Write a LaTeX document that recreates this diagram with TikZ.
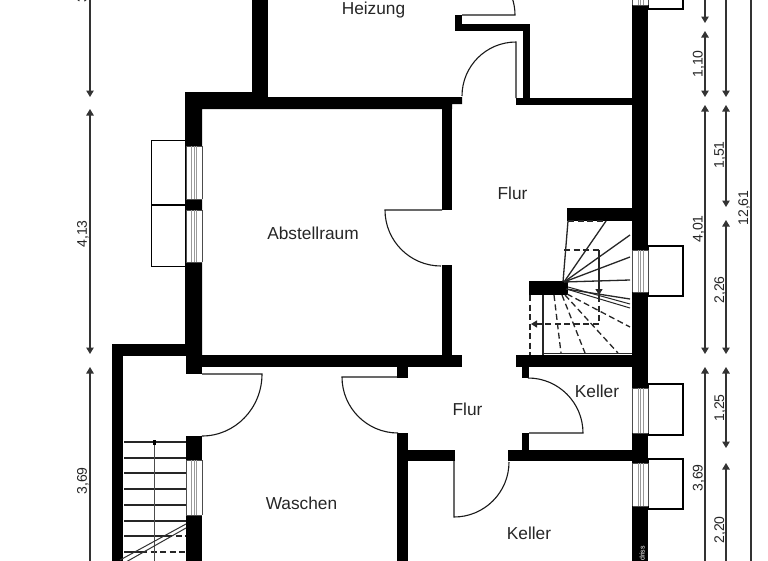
\documentclass[tikz,border=0pt]{standalone}
\usepackage{fontspec}
\setmainfont{Liberation Sans}
\usetikzlibrary{arrows.meta}
\tikzset{
  wall/.style={fill=black,draw=none},
  winbox/.style={draw=black,line width=1.7pt,fill=white},
  doorline/.style={draw=black!90,line width=1.1pt},
  tread/.style={draw=black!85,line width=1.3pt},
  treaddash/.style={draw=black!85,line width=1.3pt,dash pattern=on 6pt off 3.5pt},
  dimline/.style={draw=black!80,line width=1.1pt,{Triangle[length=6.5pt,width=7.5pt]}-{Triangle[length=6.5pt,width=7.5pt]}},
  dimtext/.style={font=\fontsize{14}{16}\selectfont,rotate=90,text=black!85,inner sep=0pt},
  roomtext/.style={font=\fontsize{17.3}{19}\selectfont,text=black!85,inner sep=0pt},
}
\newcommand{\winv}[4]{% x0 x1 y0 y1 vertical window in wall
  \fill[white] (#1,#3) rectangle (#2,#4);
  \draw[black!70,line width=0.9pt] (#1,#3) -- (#1,#4) (#2,#3) -- (#2,#4);
  \draw[black!70,line width=1pt] (#1,#3) -- (#2,#3) (#1,#4) -- (#2,#4);
  \draw[black!40,line width=0.9pt] ({#1+5.5},#3) -- ({#1+5.5},#4) ({#1+8},#3) -- ({#1+8},#4) ({#1+10.5},#3) -- ({#1+10.5},#4);
}
\begin{document}
\begin{tikzpicture}[x=1pt,y=-1pt]
\useasboundingbox (0,0) rectangle (768,560);
\path[clip] (0,0) rectangle (768,560);
\fill[white] (0,0) rectangle (768,560);
% outside window boxes
\draw[winbox] (151.5,140.5) rectangle (186,205);
\draw[winbox] (151.5,205) rectangle (186,266.5);
\draw[winbox] (648,-10) rectangle (683,9);
\draw[winbox] (648,246) rectangle (683,296);
\draw[winbox] (648,384) rectangle (683,435);
\draw[winbox] (648,459) rectangle (683,509);
% walls
\fill[wall] (252,-5) rectangle (268,97);
\fill[wall] (185,92) -- (252,92) -- (252,97) -- (462,97) -- (462,104) -- (452,104) -- (452,109) -- (202,109) -- (202,355) -- (185,355) -- cycle;
\fill[wall] (442,104) rectangle (452,210);
\fill[wall] (442,265) rectangle (452,356);
\fill[wall] (516,98) rectangle (632,104.5);
\fill[wall] (523,24) rectangle (530,98);
\fill[wall] (455,24) rectangle (530,30.5);
\fill[wall] (455,15) rectangle (462,30.5);
\fill[wall] (632,-5) rectangle (648,565);
\fill[wall] (186,355) rectangle (462,367);
\fill[wall] (186,344) rectangle (202,374);
\fill[wall] (112,344) rectangle (186,356);
\fill[wall] (112,344) rectangle (123,565);
\fill[wall] (186,436) rectangle (202,565);
\fill[wall] (397,367) rectangle (408,378);
\fill[wall] (397,433) rectangle (408,565);
\fill[wall] (408,450) rectangle (455,461);
\fill[wall] (508,450) rectangle (632,461);
\fill[wall] (522,433) rectangle (529,450);
\fill[wall] (522,367) rectangle (529,378);
\fill[wall] (516,355) rectangle (632,367);
\fill[wall] (567,208) rectangle (632,221);
\fill[wall] (529,281) rectangle (568,295);
% windows
\winv{186}{202}{146}{199}
\winv{186}{202}{210}{262}
\winv{186}{202}{460}{515}
\winv{632.5}{648}{-5}{5}
\winv{632.5}{648}{250}{292}
\winv{632.5}{648}{388}{433}
\winv{632.5}{648}{463}{506}
\node[rotate=90,text=white,font=\fontsize{7}{8}\selectfont,inner sep=0pt,anchor=west] (gr) at (642,561) {driss};
% doors
\draw[doorline] (516,98) -- (516,42) arc[start angle=-90,end angle=-180,radius=54];
\draw[doorline] (462,15) -- (515,15) arc[start angle=0,end angle=-40,radius=53];
\draw[doorline] (442,210) -- (385,210) arc[start angle=180,end angle=90,radius=56];
\draw[doorline] (202,374) -- (262,374) arc[start angle=0,end angle=90,x radius=60,y radius=62];
\draw[doorline] (397,377) -- (342,377) arc[start angle=180,end angle=90,radius=56];
\draw[doorline] (454,461) -- (454,517) arc[start angle=90,end angle=0,radius=55];
\draw[doorline] (529,433) -- (583,433) arc[start angle=0,end angle=-90,radius=55];
% left stairs
\foreach \y in {442,458,473,489,505,521}{\draw[tread] (124,\y) -- (186,\y);}
\draw[tread] (124,536) -- (166,536);
\draw[treaddash] (166,536) -- (186,536);
\draw[tread] (124,552) -- (141,552);
\draw[treaddash] (141,552) -- (186,552);
\draw[draw=black!70,line width=1pt] (154,442) -- (154,565);
\fill[black] (152.5,440) rectangle (155.5,445);
\draw[draw=black!80,line width=1pt] (186,524) -- (120,560);
\draw[draw=black!80,line width=1pt] (186,528) -- (126,562);
% right stairs solid
\draw[tread] (563,282) -- (568,221);
\draw[tread] (564,282) -- (606,221);
\draw[tread] (564,282) -- (630,235);
\draw[tread] (564,282) -- (630,257);
\draw[tread] (564,282) -- (630,280);
\draw[tread] (566,289) -- (630,299);
\draw[draw=black!85,line width=1pt] (568,287) -- (630,304);
\draw[draw=black!85,line width=1pt] (568,289.5) -- (630,308);
\draw[treaddash] (568,221) -- (606,221);
\draw[treaddash] (567,294) -- (630,327);
\draw[treaddash] (565,295) -- (618,353);
\draw[treaddash] (562,295) -- (585,353);
\draw[treaddash] (554,295) -- (561,353);
\draw[tread] (543,295) -- (543,355);
\draw[treaddash] (530,295) -- (530,355);
\draw[tread] (543,353.5) -- (632,353.5);
% walking line
\draw[treaddash] (564,250) -- (599,250);
\draw[draw=black!85,line width=1.3pt,-{Triangle[length=6pt,width=7pt]}] (599,250) -- (599,295);
\draw[treaddash] (599,296) -- (599,324) -- (540,324);
\draw[draw=black!85,line width=1.3pt,-{Triangle[length=6pt,width=7pt]}] (540,324) -- (531,324);
% dimensions
\coordinate (l0) at (90,-20); \coordinate (l1) at (90,97);
\coordinate (l2) at (90,109); \coordinate (l3) at (90,354);
\coordinate (l4) at (90,367); \coordinate (l5) at (90,580);
\draw[dimline] (l0) -- (l1);
\draw[dimline] (l2) -- (l3);
\draw[dimline] (l4) -- (l5);
\node[dimtext,anchor=west] (t1) at (83,3) {3,};
\node[dimtext] (t2) at (83,234) {4,13};
\node[dimtext] (t3) at (83,481) {3,69};
\coordinate (a0) at (705,-20); \coordinate (a1) at (705,23);
\coordinate (a2) at (705,31); \coordinate (a3) at (705,97);
\coordinate (a4) at (705,105); \coordinate (a5) at (705,354);
\coordinate (a6) at (705,367); \coordinate (a7) at (705,580);
\draw[dimline] (a0) -- (a1);
\draw[dimline] (a2) -- (a3);
\draw[dimline] (a4) -- (a5);
\draw[dimline] (a6) -- (a7);
\node[dimtext] (t4) at (698.5,64) {1,10};
\node[dimtext] (t5) at (698.5,229) {4,01};
\node[dimtext] (t6) at (698.5,478) {3,69};
\coordinate (b0) at (726,-20); \coordinate (b1) at (726,97);
\coordinate (b2) at (726,105); \coordinate (b3) at (726,207);
\coordinate (b4) at (726,220); \coordinate (b5) at (726,354);
\coordinate (b6) at (726,367); \coordinate (b7) at (726,448);
\coordinate (b8) at (726,463); \coordinate (b9) at (726,580);
\draw[dimline] (b0) -- (b1);
\draw[dimline] (b2) -- (b3);
\draw[dimline] (b4) -- (b5);
\draw[dimline] (b6) -- (b7);
\draw[dimline] (b8) -- (b9);
\node[dimtext] (t7) at (720,155) {1,51};
\node[dimtext] (t8) at (720,290) {2,26};
\node[dimtext] (t9) at (720,408) {1,25};
\node[dimtext] (t10) at (720,530) {2,20};
\draw[draw=black!80,line width=1.1pt] (751,-5) -- (751,565);
\node[dimtext] (t11) at (744,208) {12,61};
% room labels
\node[roomtext] (r1) at (373.5,10) {Heizung};
\node[roomtext] (r2) at (512.5,193) {Flur};
\node[roomtext] (r3) at (313,233) {Abstellraum};
\node[roomtext] (r4) at (467.5,409) {Flur};
\node[roomtext] (r5) at (597,391) {Keller};
\node[roomtext] (r6) at (301.5,503) {Waschen};
\node[roomtext] (r7) at (529,533) {Keller};
\end{tikzpicture}
\end{document}
